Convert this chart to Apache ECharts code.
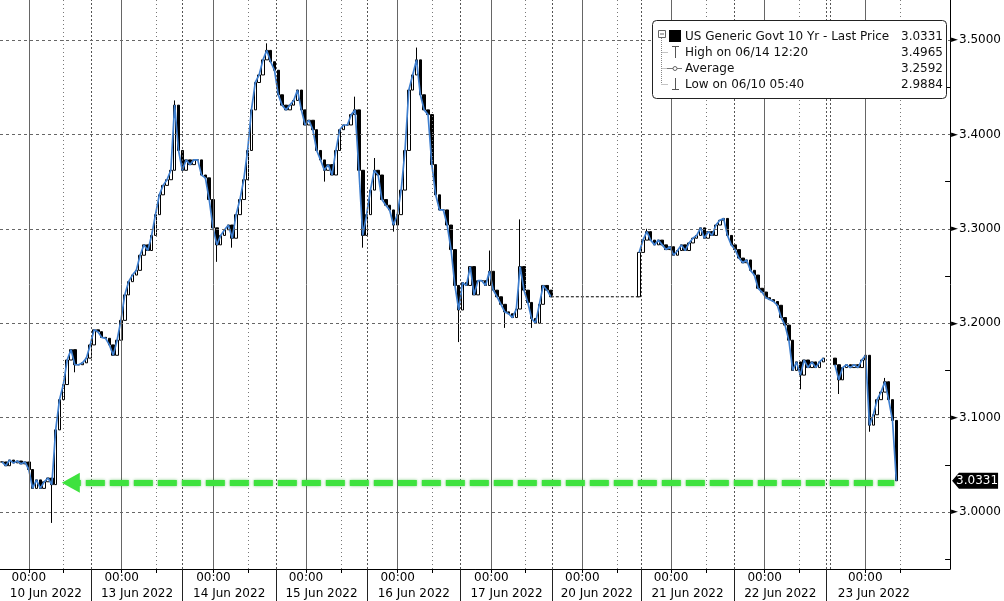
<!DOCTYPE html>
<html><head><meta charset="utf-8">
<script src="https://cdn.jsdelivr.net/npm/echarts@6/dist/echarts.min.js"></script>
<style>html,body{margin:0;padding:0;background:#fff}#c{width:1004px;height:601px}</style>
</head><body><div id="c"></div>
<script>
// ---- data (hourly bars on a compressed trading-time axis, hours from left edge) ----
const closes = [
/*0*/   3.053, 3.049, 3.055, 3.052, 3.054, 3.051, 3.053, 3.045, 3.025, 3.034,
/*10*/  3.025, 3.032, 3.036, 3.029, 3.087, 3.119, 3.135, 3.161, 3.172, 3.156,
/*20*/  3.156, 3.158, 3.163, 3.177, 3.193, 3.191, 3.185, 3.184, 3.177, 3.166,
/*30*/  3.182, 3.203, 3.230, 3.244, 3.251, 3.256, 3.272, 3.283, 3.277, 3.293,
/*40*/  3.315, 3.336, 3.346, 3.352, 3.362, 3.431, 3.383, 3.362, 3.373, 3.368,
/*50*/  3.373, 3.373, 3.357, 3.354, 3.331, 3.301, 3.283, 3.293, 3.299, 3.304,
/*60*/  3.290, 3.315, 3.331, 3.352, 3.383, 3.426, 3.455, 3.463, 3.479, 3.489,
/*70*/  3.477, 3.468, 3.442, 3.431, 3.426, 3.431, 3.436, 3.447, 3.426, 3.410,
/*80*/  3.415, 3.405, 3.383, 3.373, 3.362, 3.368, 3.357, 3.383, 3.405, 3.410,
/*90*/  3.410, 3.421, 3.426, 3.362, 3.293, 3.315, 3.341, 3.362, 3.357, 3.331,
/*100*/ 3.325, 3.320, 3.304, 3.315, 3.341, 3.383, 3.447, 3.463, 3.479, 3.442,
/*110*/ 3.426, 3.421, 3.368, 3.336, 3.320, 3.320, 3.304, 3.278, 3.240, 3.214,
/*120*/ 3.243, 3.240, 3.260, 3.230, 3.245, 3.245, 3.240, 3.255, 3.235, 3.228,
/*130*/ 3.220, 3.212, 3.210, 3.206, 3.215, 3.260, 3.235, 3.222, 3.205, 3.200,
/*140*/ 3.220, 3.240, 3.235, 3.228, null, null, null, null, null, null,
/*150*/ null, null, null, null, null, null, null, null, null, null,
/*160*/ null, null, null, null, null, null, 3.275, 3.288, 3.297, 3.288,
/*170*/ 3.283, 3.288, 3.283, 3.278, 3.281, 3.272, 3.277, 3.283, 3.277, 3.285,
/*180*/ 3.290, 3.293, 3.301, 3.290, 3.297, 3.293, 3.304, 3.309, 3.311, 3.293,
/*190*/ 3.283, 3.278, 3.269, 3.264, 3.267, 3.256, 3.251, 3.237, 3.233, 3.227,
/*200*/ 3.225, 3.223, 3.219, 3.206, 3.198, 3.182, 3.150, 3.159, 3.145, 3.161,
/*210*/ 3.153, 3.159, 3.153, 3.159, 3.163, null, null, 3.156, 3.140, 3.153,
/*220*/ 3.156, 3.153, 3.156, 3.153, 3.161, 3.166, 3.092, 3.103, 3.119, 3.127,
/*230*/ 3.138, 3.119, 3.097, 3.0331
];
// [bar index, low wick, high wick]
const wicks = [
  [13, 2.9884, null], [19, 3.148, null], [45, null, 3.436], [56, 3.265, null],
  [60, 3.280, null], [69, null, 3.4965], [84, 3.350, null], [92, null, 3.440], [94, 3.280, null],
  [97, null, 3.375], [102, 3.297, null], [108, null, 3.492], [119, 3.180, null], [127, null, 3.277],
  [131, 3.195, null], [135, null, 3.310], [138, 3.195, null], [168, null, 3.300],
  [208, 3.130, null], [218, 3.125, null], [226, 3.085, null], [230, null, 3.142]
];
const holidayFromBar = 143, holidayToBar = 166;   // 20 Jun: no trading, dotted flat line

const midnightHours = [7.5, 31.7, 55.6, 79.7, 103.6, 128.0, 151.7, 174.8, 199.2, 225.4];
const morningHours  = [16.6, 40.8, 64.7, 88.8, 112.7, 136.9, 160.8, 183.9, 208.3, 234.5];
const sessionHours  = [23.9, 47.5, 71.9, 95.6, 120.0, 143.9, 167.0, 191.2, 215.3, 216.4];
const dayBounds     = [0, 23.9, 47.5, 71.9, 95.6, 120.0, 143.9, 167.0, 191.2, 215.3, 240.0];
const dayLabels = ['10 Jun 2022','13 Jun 2022','14 Jun 2022','15 Jun 2022','16 Jun 2022',
                   '17 Jun 2022','20 Jun 2022','21 Jun 2022','22 Jun 2022','23 Jun 2022'];
const timeLabel = '00:00';
const yMajor = [3.0, 3.1, 3.2, 3.3, 3.4, 3.5];
const yMinor = [2.95, 3.05, 3.15, 3.25, 3.35, 3.45];

const seriesName = 'US Generic Govt 10 Yr - Last Price';
const lastPrice = 3.0331;
const highLabel = 'High on 06/14 12:20', highVal = 3.4965;
const avgLabel = 'Average', avgVal = 3.2592;
const lowLabel = 'Low on 06/10 05:40', lowVal = 2.9884;
const arrowY = 3.031, arrowFromHour = 18.45, arrowToHour = 232.96;

// ---- build ----
const X_MAX = 247.5, Y_MIN = 2.9396, Y_MAX = 3.5424;
const FONT = '"DejaVu Sans", Verdana, sans-serif';
const candleData = [], lineData = [];
let prev = null;
closes.forEach((c, i) => {
  const x = i + 0.5;
  lineData.push([x, c]);
  if (c == null) return;
  const o = prev == null ? c : prev;
  let lo = Math.min(o, c), hi = Math.max(o, c);
  const w = wicks.find(w => w[0] === i);
  if (w) { if (w[1] != null) lo = Math.min(lo, w[1]); if (w[2] != null) hi = Math.max(hi, w[2]); }
  candleData.push([x, o, c, lo, hi]);
  prev = c;
});
const dayCenters = dayLabels.map((d, i) => (dayBounds[i] + dayBounds[i + 1]) / 2);
const xTicks = midnightHours.concat(morningHours).sort((a, b) => a - b);

const gridLines = [];
midnightHours.forEach(h => gridLines.push({xAxis: h, lineStyle: {color: '#666', width: 1, type: 'solid'}}));
morningHours.forEach(h => gridLines.push({xAxis: h, lineStyle: {color: '#777', width: 1, type: [1, 3]}}));
sessionHours.forEach(h => gridLines.push({xAxis: h, lineStyle: {color: '#555', width: 1, type: [2, 2]}}));
yMajor.forEach(v => gridLines.push({yAxis: v, lineStyle: {color: '#666', width: 1, type: [3, 3]}}));

const chart = echarts.init(document.getElementById('c'));
const legendG = [];
const gx = 652.5, gy = 20.5;
legendG.push({type: 'rect', shape: {x: gx, y: gy, width: 294, height: 78, r: 4},
  style: {fill: '#fff', stroke: '#222', lineWidth: 1}});
legendG.push({type: 'rect', shape: {x: 658.5, y: 30.5, width: 7, height: 7},
  style: {fill: '#fff', stroke: '#666', lineWidth: 1}});
legendG.push({type: 'line', shape: {x1: 660, y1: 34, x2: 664, y2: 34}, style: {stroke: '#666', lineWidth: 1}});
legendG.push({type: 'line', shape: {x1: 661.5, y1: 38, x2: 661.5, y2: 84}, style: {stroke: '#888', lineWidth: 1, lineDash: [1, 1]}});
[52, 68, 84].forEach(y => legendG.push({type: 'line', shape: {x1: 661.5, y1: y + 0.5, x2: 668, y2: y + 0.5},
  style: {stroke: '#888', lineWidth: 1, lineDash: [1, 1]}}));
legendG.push({type: 'rect', shape: {x: 669, y: 30, width: 12, height: 12}, style: {fill: '#000'}});
legendG.push({type: 'line', shape: {x1: 672, y1: 46.5, x2: 679, y2: 46.5}, style: {stroke: '#555', lineWidth: 1}});
legendG.push({type: 'line', shape: {x1: 675.5, y1: 46, x2: 675.5, y2: 58}, style: {stroke: '#555', lineWidth: 1}});
legendG.push({type: 'line', shape: {x1: 667, y1: 68.5, x2: 682, y2: 68.5}, style: {stroke: '#777', lineWidth: 1}});
legendG.push({type: 'circle', shape: {cx: 675, cy: 68.5, r: 2}, style: {fill: '#fff', stroke: '#666', lineWidth: 1}});
legendG.push({type: 'line', shape: {x1: 675.5, y1: 78, x2: 675.5, y2: 90}, style: {stroke: '#555', lineWidth: 1}});
legendG.push({type: 'line', shape: {x1: 672, y1: 89.5, x2: 679, y2: 89.5}, style: {stroke: '#555', lineWidth: 1}});
const rows = [[seriesName, lastPrice], [highLabel, highVal], [avgLabel, avgVal], [lowLabel, lowVal]];
rows.forEach((r, i) => {
  const y = 36.5 + i * 16;
  legendG.push({type: 'text', style: {text: r[0], x: 685, y: y, fill: '#111', font: '12px ' + FONT,
    textAlign: 'left', textVerticalAlign: 'middle', align: 'left', verticalAlign: 'middle'}});
  legendG.push({type: 'text', style: {text: r[1].toFixed(4), x: 943, y: y, fill: '#111', font: '12px ' + FONT,
    textAlign: 'right', textVerticalAlign: 'middle', align: 'right', verticalAlign: 'middle'}});
});
legendG.forEach(g => { g.z = 100; g.silent = true; });

chart.setOption({
  animation: false,
  backgroundColor: '#fff',
  textStyle: {fontFamily: FONT},
  grid: {left: 0, right: 51, top: 0, bottom: 32, containLabel: false},
  xAxis: [{
    type: 'value', min: 0, max: X_MAX, position: 'bottom',
    axisLine: {show: true, lineStyle: {color: '#000', width: 1}},
    axisTick: {show: true, customValues: xTicks, length: 4, lineStyle: {color: '#000'}},
    axisLabel: {show: true, customValues: midnightHours, formatter: () => timeLabel,
      color: '#000', fontSize: 12, fontFamily: FONT, margin: 3},
    splitLine: {show: false}
  }, {
    type: 'value', min: 0, max: X_MAX, position: 'bottom',
    axisLine: {show: false},
    axisTick: {show: true, customValues: sessionHours.slice(0, 9), length: 32, lineStyle: {color: '#222'}},
    axisLabel: {show: true, customValues: dayCenters,
      formatter: v => { const i = dayCenters.findIndex(c => Math.abs(c - v) < 1e-6); return i >= 0 ? dayLabels[i] : ''; },
      color: '#000', fontSize: 12, fontFamily: FONT, margin: 19},
    splitLine: {show: false}
  }],
  yAxis: [{
    type: 'value', min: Y_MIN, max: Y_MAX, position: 'right',
    axisLine: {show: true, onZero: false, lineStyle: {color: '#000', width: 1}},
    axisTick: {show: true, customValues: yMinor, inside: true, length: 5, lineStyle: {color: '#000'}},
    axisLabel: {show: true, customValues: yMajor, margin: 1,
      formatter: v => '{t|\u25BA}' + v.toFixed(4),
      color: '#000', fontSize: 12, fontFamily: FONT,
      rich: {t: {fontSize: 9, color: '#000', padding: [0, 1, 0, 0]}}},
    splitLine: {show: false}
  }],
  graphic: legendG,
  series: [{
    type: 'line', name: 'grid', data: [[0, Y_MIN]], showSymbol: false, silent: true, z: 1,
    lineStyle: {width: 0, opacity: 0},
    markLine: {silent: true, symbol: ['none', 'none'], label: {show: false}, animation: false, data: gridLines}
  }, {
    type: 'line', name: 'holiday', silent: true, z: 2, showSymbol: false,
    data: [[holidayFromBar + 0.5, closes[holidayFromBar]], [holidayToBar + 0.5, closes[holidayFromBar]]],
    lineStyle: {color: '#000', width: 1, type: [3, 2]}
  }, {
    type: 'candlestick', name: seriesName, data: candleData, z: 3, barWidth: 3,
    encode: {x: 0, y: [1, 2, 3, 4]},
    itemStyle: {color: '#fff', color0: '#000', borderColor: '#000', borderColor0: '#000', borderWidth: 1},
    markPoint: {
      silent: true, animation: false,
      symbol: 'path://M0,8L7,0L47,0L47,16L7,16Z', symbolSize: [46, 16], symbolKeepAspect: false,
      symbolOffset: [25, 0],
      itemStyle: {color: '#000'},
      label: {show: true, position: 'inside', color: '#fff', fontSize: 12, fontFamily: FONT,
        formatter: () => lastPrice.toFixed(4), offset: [2, 0]},
      data: [{coord: [X_MAX, lastPrice]}]
    }
  }, {
    type: 'line', name: 'close', data: lineData, z: 4, showSymbol: false, silent: true,
    connectNulls: false, lineStyle: {color: '#3f7fcf', width: 1.7}
  }, {
    type: 'line', name: 'arrow', data: [[0, Y_MIN]], z: 6, showSymbol: false, silent: true,
    lineStyle: {width: 0, opacity: 0},
    markLine: {
      silent: true, animation: false, label: {show: false},
      lineStyle: {color: '#3ee23e', width: 6, type: [19, 5], dashOffset: 9,
        shadowBlur: 3, shadowColor: 'rgba(40,170,40,0.6)'},
      data: [[{coord: [arrowFromHour, arrowY], symbol: 'triangle', symbolSize: [20, 18]},
              {coord: [arrowToHour, arrowY], symbol: 'none'}]]
    }
  }]
});
</script></body></html>
